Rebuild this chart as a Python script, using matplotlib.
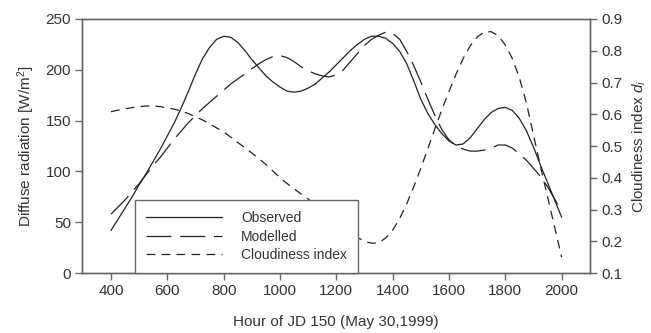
import matplotlib
matplotlib.use("Agg")
import matplotlib.pyplot as plt

plt.rcParams["font.family"] = ["Liberation Sans", "DejaVu Sans"]
plt.rcParams["mathtext.fontset"] = "custom"
plt.rcParams["mathtext.rm"] = "Liberation Sans"
plt.rcParams["mathtext.it"] = "Liberation Sans:italic"

# hours of the day (JD 150), read every 25
hours = list(range(400, 2001, 25))

# diffuse radiation, W/m2
observed = [42, 53, 64, 75, 87, 98, 110, 122, 135, 148, 163, 179, 196, 211,
            222, 230, 233, 232, 227, 219, 210, 202, 194, 188, 183, 179, 178,
            179, 182, 186, 192, 198, 205, 212, 219, 225, 230, 233, 233, 231,
            226, 218, 206, 189, 171, 157, 146, 137, 130, 126, 127, 133, 142,
            151, 158, 162, 163, 160, 152, 140, 124, 106, 89, 72, 55]
modelled = [58, 65, 72, 80, 88, 97, 106, 114, 123, 132, 140, 148, 155, 162,
            168, 174, 180, 186, 191, 196, 201, 206, 210, 213, 214, 212, 208,
            203, 199, 196, 194, 193, 195, 200, 208, 216, 224, 230, 234, 237,
            236, 230, 218, 204, 188, 171, 155, 141, 131, 125, 122, 120, 120,
            121, 123, 126, 126, 123, 117, 111, 103, 95, 85, 73, 60]

# cloudiness index d_i (right axis)
cloudiness = [0.608, 0.613, 0.617, 0.621, 0.624, 0.626, 0.626, 0.624, 0.620,
              0.616, 0.610, 0.602, 0.592, 0.582, 0.570, 0.557, 0.544, 0.528,
              0.511, 0.495, 0.478, 0.460, 0.442, 0.421, 0.400, 0.382, 0.365,
              0.349, 0.333, 0.316, 0.300, 0.283, 0.265, 0.246, 0.228, 0.212,
              0.200, 0.194, 0.195, 0.210, 0.235, 0.272, 0.318, 0.372, 0.430,
              0.492, 0.555, 0.615, 0.672, 0.726, 0.775, 0.815, 0.843, 0.859,
              0.860, 0.847, 0.818, 0.775, 0.715, 0.635, 0.535, 0.435, 0.340,
              0.245, 0.150]

xticks = [400, 600, 800, 1000, 1200, 1400, 1600, 1800, 2000]

spine_col = "#666666"
line_col = "#222222"
text_col = "#333333"

fig = plt.figure(figsize=(6.51, 3.33), dpi=100)
ax = fig.add_axes([0.126, 0.180, 0.780, 0.763])
ax2 = ax.twinx()

l1, = ax.plot(hours, observed, color=line_col, lw=0.9, label="Observed")
l2, = ax.plot(hours, modelled, color=line_col, lw=0.9, dashes=(20, 7),
              label="Modelled")
l3, = ax2.plot(hours, cloudiness, color=line_col, lw=0.9, dashes=(7, 5),
               label="Cloudiness index")

ax.set_xlim(297, 2100)
ax.set_ylim(0, 250)
ax2.set_ylim(0.1, 0.9)
ax.set_xticks(xticks)
ax.set_yticks([0, 50, 100, 150, 200, 250])
ax2.set_yticks([0.1, 0.2, 0.3, 0.4, 0.5, 0.6, 0.7, 0.8, 0.9])

for a in (ax, ax2):
    for s in a.spines.values():
        s.set_color(spine_col)
        s.set_linewidth(1.0)
    a.tick_params(direction="out", length=5, width=1.0, color=spine_col,
                  labelsize=11, labelcolor=text_col, pad=3)

ax.set_xlabel("Hour of JD 150 (May 30,1999)", fontsize=11, color=text_col,
              labelpad=12)
ax.set_ylabel("Diffuse radiation [W/m$^2$]", fontsize=11, color=text_col,
              labelpad=6)
ax2.set_ylabel("Cloudiness index $d_i$", fontsize=11, color=text_col,
               labelpad=6)

leg = ax2.legend(handles=[l1, l2, l3], loc="lower left",
                 bbox_to_anchor=(0.104, 0.0), borderaxespad=0,
                 fancybox=False, framealpha=1, edgecolor=spine_col,
                 fontsize=10, handlelength=5.5, handletextpad=1.35,
                 labelspacing=0.32, borderpad=0.8)
leg.get_frame().set_linewidth(1.0)
for t in leg.get_texts():
    t.set_color(text_col)

fig.savefig("out.png", dpi=100)
